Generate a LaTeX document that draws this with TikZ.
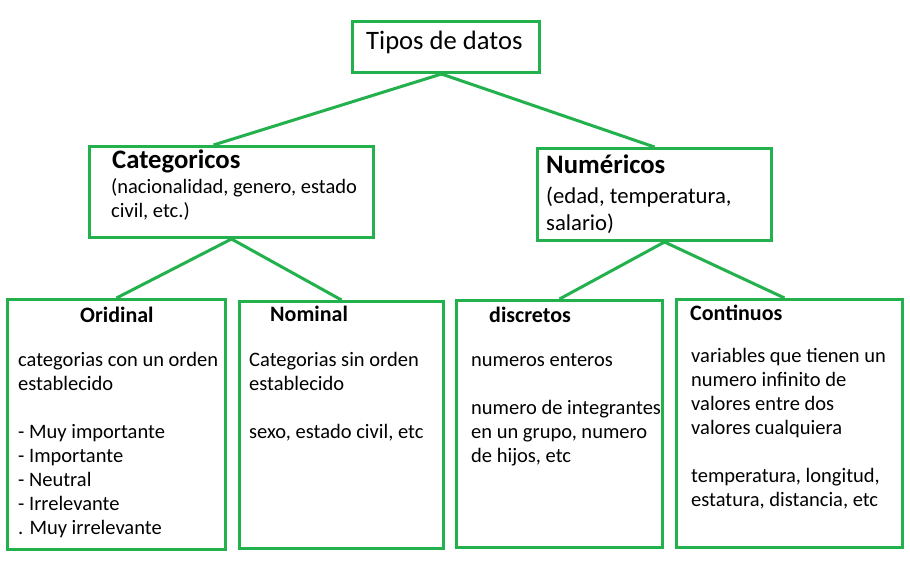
\documentclass[tikz,border=0pt]{standalone}
\usepackage{fontspec}
\setmainfont{Carlito}
\usetikzlibrary{calc}
\definecolor{pgreen}{RGB}{34,177,76}
\begin{document}
\begin{tikzpicture}[x=1pt,y=-1pt,
  box/.style={draw=pgreen,line width=3pt,inner sep=0pt,anchor=north west},
  conn/.style={draw=pgreen,line width=3pt},
  txt/.style={anchor=base west,inner sep=0pt,align=left,font=\fontsize{20.5}{24}\selectfont},
  head/.style={anchor=base west,inner sep=0pt,font=\fontsize{26.7}{32}\selectfont\bfseries},
  subhead/.style={anchor=base west,inner sep=0pt,font=\fontsize{22}{26}\selectfont\bfseries}]
\useasboundingbox[fill=white] (0,0) rectangle (910,562);
% boxes
\node[box,minimum width=187pt,minimum height=51pt] (tipos) at (351,20) {};
\node[box,minimum width=284pt,minimum height=91pt] (cat) at (88,145) {};
\node[box,minimum width=234pt,minimum height=92pt] (num) at (536,147) {};
\node[box,minimum width=218pt,minimum height=250pt] (ord) at (6,298) {};
\node[box,minimum width=204pt,minimum height=247pt] (nom) at (238,300) {};
\node[box,minimum width=206pt,minimum height=247pt] (dis) at (455,299) {};
\node[box,minimum width=226pt,minimum height=248pt] (con) at (675,298) {};
% connectors
\draw[conn] ([xshift=-4.5pt]tipos.south) -- ([xshift=-18pt]cat.north);
\draw[conn] ([xshift=-4.5pt]tipos.south) -- (num.north);
\draw[conn] (cat.south) -- (ord.north);
\draw[conn] (cat.south) -- (nom.north);
\draw[conn] ([xshift=10pt]num.south) -- (dis.north);
\draw[conn] ([xshift=10pt]num.south) -- ([xshift=-5pt]con.north);
% texts (multi-line nodes: base = baseline of last line)
\node[anchor=base west,inner sep=0pt,font=\fontsize{26.6}{32}\selectfont] (tt) at (366,49) {Tipos de datos};
\node[head] (cath) at (112,168) {Categoricos};
\node[txt] (catb) at (111,217) {(nacionalidad, genero, estado\\civil, etc.)};
\node[head] (numh) at (546,173) {Numéricos};
\node[txt,font=\fontsize{22.7}{27}\selectfont] (numb) at (546,230) {(edad, temperatura,\\salario)};
\node[subhead] (ordh) at (80,322) {Oridinal};
\node[txt] (ordb) at (18,534) {categorias con un orden\\establecido\\[24pt]- Muy importante\\- Importante\\- Neutral\\- Irrelevante\\. Muy irrelevante};
\node[subhead] (nomh) at (270,321) {Nominal};
\node[txt] (nomb) at (249,438) {Categorias sin orden\\establecido\\[24pt]sexo, estado civil, etc};
\node[subhead] (dish) at (489,322) {discretos};
\node[txt] (disb) at (471,462) {numeros enteros\\[24pt]numero de integrantes\\en un grupo, numero\\de hijos, etc};
\node[subhead] (conh) at (690,320) {Continuos};
\node[txt] (conb) at (691,506) {variables que tienen un\\numero infinito de\\valores entre dos\\valores cualquiera\\[24pt]temperatura, longitud,\\estatura, distancia, etc};
\end{tikzpicture}
\end{document}
